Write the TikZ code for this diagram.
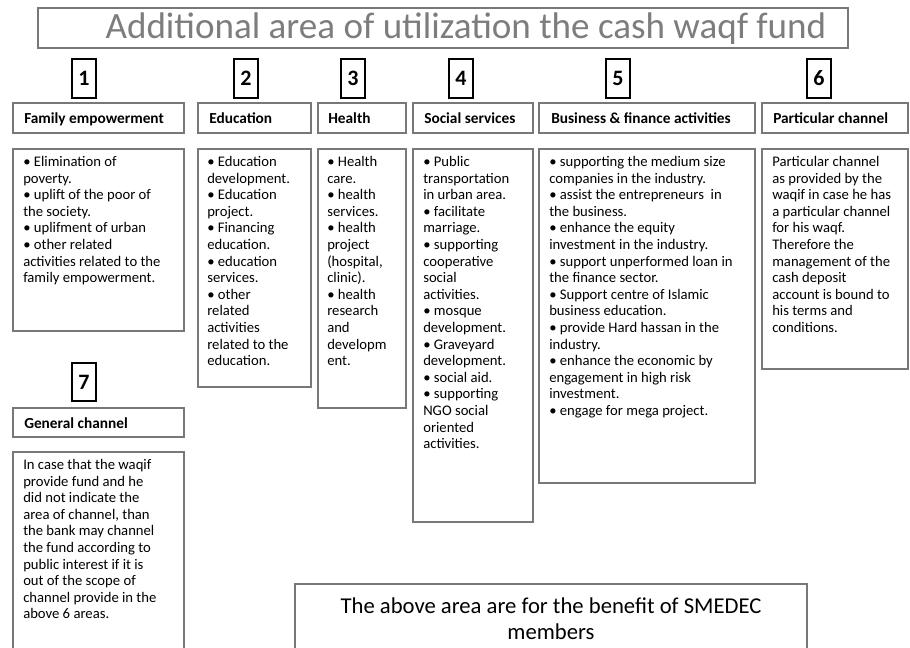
\documentclass[tikz,border=0pt]{standalone}
\usepackage{fontspec}
\setmainfont{Carlito}
\definecolor{bord}{RGB}{120,120,120}
\definecolor{titlegray}{RGB}{125,125,125}
\tikzset{
  boxline/.style={draw=bord, line width=1.6pt},
  numbox/.style={draw=black, line width=1.4pt, inner sep=0pt, minimum width=18pt, minimum height=29pt, font=\bfseries\fontsize{16.5}{16.5}\selectfont},
  headtxt/.style={anchor=base west, inner sep=0pt, font=\bfseries\fontsize{11.5}{13}\selectfont},
  bodytxt/.style={anchor=north west, inner sep=0pt, align=left, font=\fontsize{11}{12.45}\selectfont},
}
\begin{document}
\begin{tikzpicture}[x=0.75pt,y=-0.75pt]
\useasboundingbox (0,0) rectangle (910,648);
% title
\draw[boxline] (38,8) rectangle (848,48);
\node[inner sep=0pt, text=titlegray, font=\fontsize{27.8}{30}\selectfont] (title) at (466,28.5) {Additional area of utilization the cash waqf fund};
% number boxes
\node[numbox] (n1) at (84,78.5) {1};
\node[numbox] (n2) at (246,78.5) {2};
\node[numbox] (n3) at (353,78.5) {3};
\node[numbox] (n4) at (461,78.5) {4};
\node[numbox] (n5) at (618,78.5) {5};
\node[numbox] (n6) at (819,78.5) {6};
\node[numbox] (n7) at (84,382) {7};
% headers
\draw[boxline] (13,103) rectangle (184,133);
\node[headtxt] (h1) at (24,123.5) {Family empowerment};
\draw[boxline] (198,103) rectangle (311,133);
\node[headtxt] (h2) at (209,123.5) {Education};
\draw[boxline] (318,103) rectangle (406,133);
\node[headtxt] (h3) at (328,123.5) {Health};
\draw[boxline] (413,103) rectangle (533,133);
\node[headtxt] (h4) at (424,123.5) {Social services};
\draw[boxline] (539,103) rectangle (755,133);
\node[headtxt] (h5) at (551,123.5) {Business \& finance activities};
\draw[boxline] (762,103) rectangle (908,133);
\node[headtxt] (h6) at (773,123.5) {Particular channel};
\draw[boxline] (13,408) rectangle (184,437);
\node[headtxt] (h7) at (24,428) {General channel};
% content boxes
\draw[boxline] (13,149) rectangle (184,331);
\node[bodytxt] (c1) at (23,156) {• Elimination of\\poverty.\\• uplift of the poor of\\the society.\\• uplifment of urban\\• other related\\activities related to the\\family empowerment.};
\draw[boxline] (198,149) rectangle (311,387);
\node[bodytxt] (c2) at (207,156) {• Education\\development.\\• Education\\project.\\• Financing\\education.\\• education\\services.\\• other\\related\\activities\\related to the\\education.};
\draw[boxline] (318,149) rectangle (406,408);
\node[bodytxt] (c3) at (327,156) {• Health\\care.\\• health\\services.\\• health\\project\\(hospital,\\clinic).\\• health\\research\\and\\developm\\ent.};
\draw[boxline] (413,149) rectangle (533,522);
\node[bodytxt] (c4) at (423,156) {• Public\\transportation\\in urban area.\\• facilitate\\marriage.\\• supporting\\cooperative\\social\\activities.\\• mosque\\development.\\• Graveyard\\development.\\• social aid.\\• supporting\\NGO social\\oriented\\activities.};
\draw[boxline] (539,149) rectangle (755,483);
\node[bodytxt] (c5) at (549,156) {• supporting the medium size\\companies in the industry.\\• assist the entrepreneurs\ \ in\\the business.\\• enhance the equity\\investment in the industry.\\• support unperformed loan in\\the finance sector.\\• Support centre of Islamic\\business education.\\• provide Hard hassan in the\\industry.\\• enhance the economic by\\engagement in high risk\\investment.\\• engage for mega project.};
\draw[boxline] (762,149) rectangle (908,369);
\node[bodytxt] (c6) at (772,156) {Particular channel\\as provided by the\\waqif in case he has\\a particular channel\\for his waqf.\\Therefore the\\management of the\\cash deposit\\account is bound to\\his terms and\\conditions.};
\draw[boxline] (13,452) rectangle (184,665);
\node[bodytxt] (c7) at (23,459) {In case that the waqif\\provide fund and he\\did not indicate the\\area of channel, than\\the bank may channel\\the fund according to\\public interest if it is\\out of the scope of\\channel provide in the\\above 6 areas.};
% bottom note
\draw[boxline] (295,584) rectangle (807,665);
\node[inner sep=0pt, align=center, font=\fontsize{17}{19.5}\selectfont] (note) at (551,619) {The above area are for the benefit of SMEDEC\\members};
\end{tikzpicture}
\end{document}
